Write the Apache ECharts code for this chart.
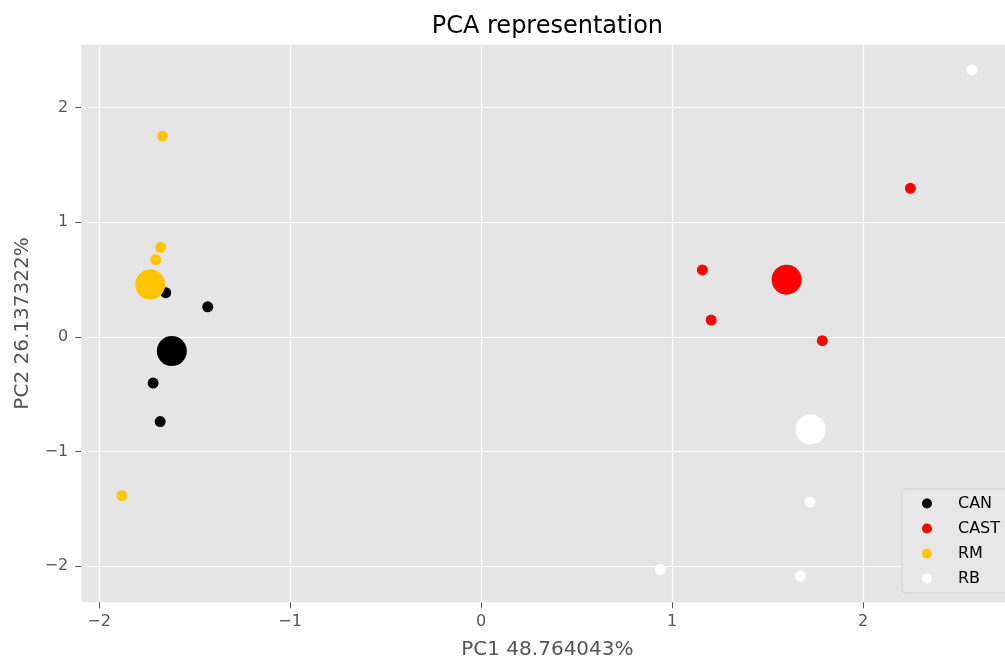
<!DOCTYPE html>
<html>
<head>
<meta charset="utf-8">
<script src="https://cdn.jsdelivr.net/npm/echarts@6/dist/echarts.min.js"></script>
<style>
html,body{margin:0;padding:0;background:#fff;}
#chart{width:1005px;height:657px;}
</style>
</head>
<body>
<div id="chart"></div>
<script>
// ---- data ----
const groups = ['CAN', 'CAST', 'RM', 'RB'];
const canPoints  = [[-1.651, 0.385], [-1.431, 0.261], [-1.717, -0.403], [-1.680, -0.739]];
const canCenter  = [[-1.619, -0.124]];
const castPoints = [[2.248, 1.294], [1.159, 0.583], [1.205, 0.146], [1.787, -0.034]];
const castCenter = [[1.600, 0.498]];
const rmPoints   = [[-1.668, 1.750], [-1.677, 0.780], [-1.703, 0.672], [-1.881, -1.385]];
const rmCenter   = [[-1.732, 0.455]];
const rbPoints   = [[2.571, 2.326], [1.723, -1.439], [0.939, -2.028], [1.672, -2.086]];
const rbCenter   = [[1.726, -0.807]];
const xTicks = [-2, -1, 0, 1, 2];
const yTicks = [-2, -1, 0, 1, 2];
const titleText = 'PCA representation';
const xName = 'PC1 48.764043%';
const yName = 'PC2 26.137322%';

// ---- styling ----
const colors = {CAN: '#000000', CAST: '#FF0000', RM: '#FFC400', RB: '#FFFFFF'};
const pointSets = {CAN: [canPoints, canCenter], CAST: [castPoints, castCenter], RM: [rmPoints, rmCenter], RB: [rbPoints, rbCenter]};
const FONT = 'DejaVu Sans';
const fmt = v => (v < 0 ? '\u2212' + Math.abs(v) : String(v));

const series = [];
groups.forEach(g => {
  series.push({name: g, type: 'scatter', data: pointSets[g][0], symbolSize: 11,
    itemStyle: {color: colors[g], opacity: 1}, emphasis: {disabled: true}, animation: false});
  series.push({name: g, type: 'scatter', data: pointSets[g][1], symbolSize: 30,
    itemStyle: {color: colors[g], opacity: 1}, emphasis: {disabled: true}, animation: false});
});

const chart = echarts.init(document.getElementById('chart'), null, {renderer: 'canvas'});
chart.setOption({
  backgroundColor: '#ffffff',
  animation: false,
  textStyle: {fontFamily: FONT},
  grid: {left: 81.3, right: -8.5, top: 44.7, bottom: 54.7, show: true,
    backgroundColor: '#E5E5E5', borderWidth: 0, containLabel: false, outerBoundsMode: 'none'},
  xAxis: {
    type: 'value', min: -2.093, max: 2.788,
    name: xName, nameLocation: 'middle', nameGap: 37,
    nameTextStyle: {color: '#555555', fontSize: 20, fontFamily: FONT},
    axisLine: {show: false, onZero: false},
    axisTick: {show: true, customValues: xTicks, length: 6, inside: false, lineStyle: {color: '#555555', width: 1}},
    axisLabel: {customValues: xTicks, formatter: fmt, color: '#555555', fontSize: 16, margin: 12, fontFamily: FONT},
    splitLine: {show: true, lineStyle: {color: '#FFFFFF', width: 1.2}}
  },
  yAxis: {
    type: 'value', min: -2.314, max: 2.546,
    name: yName, nameLocation: 'middle', nameGap: 49, nameRotate: 90,
    nameTextStyle: {color: '#555555', fontSize: 20, fontFamily: FONT},
    axisLine: {show: false, onZero: false},
    axisTick: {show: true, customValues: yTicks, length: 6, inside: false, lineStyle: {color: '#555555', width: 1}},
    axisLabel: {customValues: yTicks, formatter: fmt, color: '#555555', fontSize: 16, margin: 13, fontFamily: FONT},
    splitLine: {show: true, lineStyle: {color: '#FFFFFF', width: 1.2}}
  },
  legend: {
    data: groups.map(g => ({name: g, icon: 'circle', itemStyle: {color: colors[g]}})),
    orient: 'vertical', left: 902, top: 489,
    itemWidth: 10, itemHeight: 10, itemGap: 8,
    padding: [6, 30, 6, 20],
    backgroundColor: '#E7E7E7', borderColor: '#CFCFCF', borderWidth: 1, borderRadius: 4,
    textStyle: {color: '#000000', fontSize: 16, fontFamily: FONT, lineHeight: 17, padding: [0, 0, 0, 21]},
    selectedMode: false
  },
  graphic: [{
    type: 'text', x: 547.4, y: 27, silent: true,
    style: {text: titleText, fill: '#000000', font: '24px "DejaVu Sans"', textAlign: 'center', textVerticalAlign: 'middle'}
  }],
  series: series
});
</script>
</body>
</html>
